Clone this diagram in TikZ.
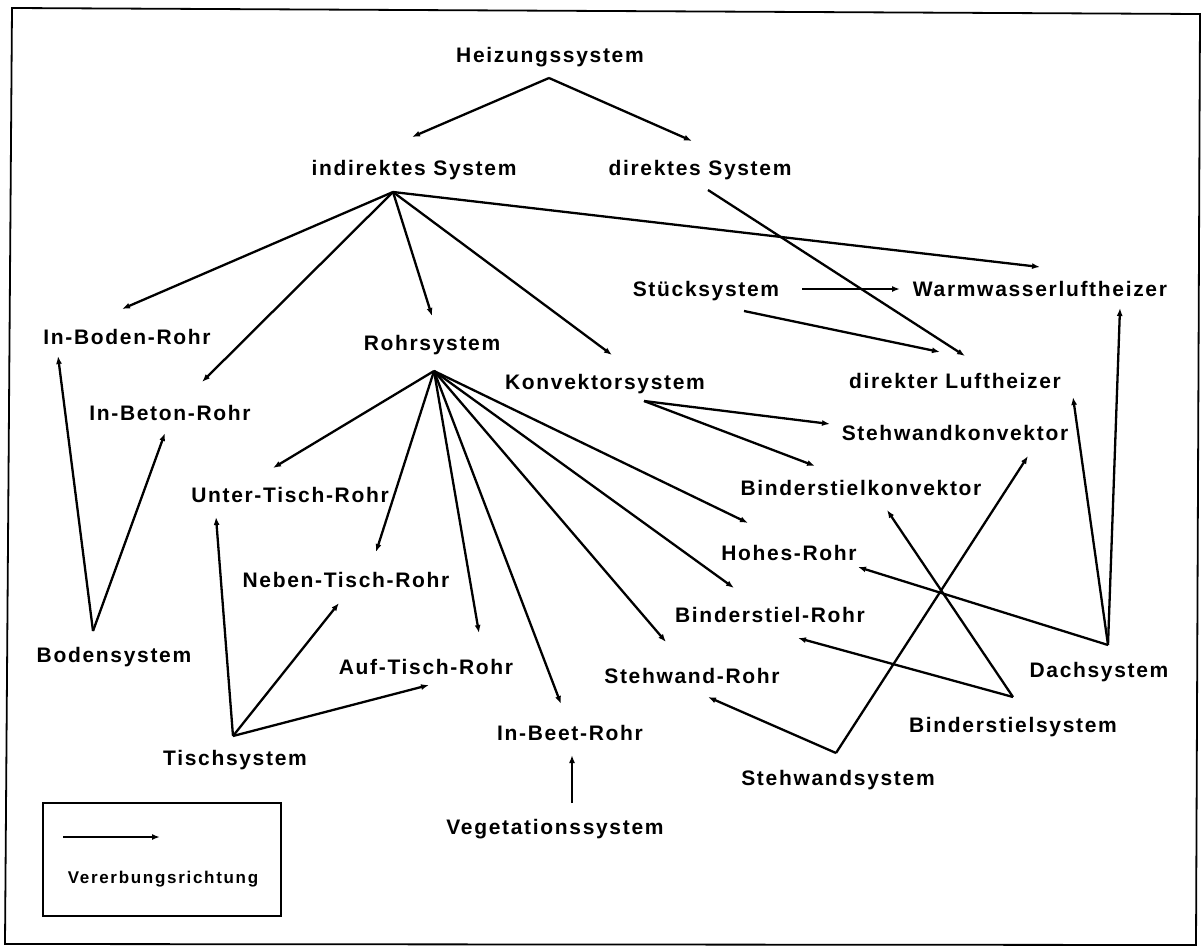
\documentclass[tikz,border=0pt]{standalone}
\usepackage{fontspec}
\setmainfont{Liberation Sans}[LetterSpace=8]
\newfontfamily\legendfont{Liberation Sans}[LetterSpace=10]
\usetikzlibrary{arrows.meta,calc}
\begin{document}
\begin{tikzpicture}[x=1pt,y=-1pt,
  lab/.style={font=\fontsize{21}{24}\selectfont\bfseries, inner sep=0pt,
              text height=15pt, text depth=0pt, anchor=center},
  inh/.style={line width=2.3pt, -{Latex[length=8pt,width=6pt]}},
  frame/.style={line width=1.8pt}]
\useasboundingbox (0,0) rectangle (1204,947);

% outer frame
\draw[frame] (12,8) -- (1200,14) -- (1196,945) -- (5,944) -- cycle;

% class names
\node[lab] (heiz)   at (550,55)  {Heizungssystem};
\node[lab] (indir)  at (414,168) {indirektes System};
\node[lab] (dir)    at (700,168) {direktes System};
\node[lab] (stueck) at (706,289) {Stücksystem};
\node[lab] (warm)   at (1040,289) {Warmwasserluftheizer};
\node[lab] (boden)  at (127,337) {In-Boden-Rohr};
\node[lab] (rohr)   at (432,343) {Rohrsystem};
\node[lab] (beton)  at (170,413) {In-Beton-Rohr};
\node[lab] (konv)   at (605,382) {Konvektorsystem};
\node[lab] (luft)   at (955,381) {direkter Luftheizer};
\node[lab] (stkonv) at (955,433) {Stehwandkonvektor};
\node[lab] (unter)  at (290,495) {Unter-Tisch-Rohr};
\node[lab] (bkonv)  at (861,488) {Binderstielkonvektor};
\node[lab] (neben)  at (346,580) {Neben-Tisch-Rohr};
\node[lab] (hohes)  at (789,553) {Hohes-Rohr};
\node[lab] (brohr)  at (770,615) {Binderstiel-Rohr};
\node[lab] (bodsys) at (114,655) {Bodensystem};
\node[lab] (auf)    at (426,667) {Auf-Tisch-Rohr};
\node[lab] (strohr) at (692,676) {Stehwand-Rohr};
\node[lab] (dach)   at (1099,670) {Dachsystem};
\node[lab] (beet)   at (570,733) {In-Beet-Rohr};
\node[lab] (bsys)   at (1013,725) {Binderstielsystem};
\node[lab] (tisch)  at (235,758) {Tischsystem};
\node[lab] (stsys)  at (838,778) {Stehwandsystem};
\node[lab] (veg)    at (555,827) {Vegetationssystem};

% points where the inheritance lines leave a class
\coordinate (heiz-o)   at (549,78);
\coordinate (indir-o)  at (393,192);
\coordinate (dir-o)    at (708,190);
\coordinate (stueck-r) at (802,289);
\coordinate (stueck-b) at (744,311);
\coordinate (rohr-o)   at (434,371);
\coordinate (konv-o)   at (644,401);
\coordinate (bodsys-o) at (93,631);
\coordinate (tisch-o)  at (233,736);
\coordinate (veg-o)    at (572,803);
\coordinate (stsys-o)  at (836,753);
\coordinate (bsys-o)   at (1013,697);
\coordinate (dach-o)   at (1108,645);

% points where they arrive
\coordinate (indir-i)   at (412,137);
\coordinate (dir-i)     at (692,141);
\coordinate (warm-i1)   at (1040,267);
\coordinate (warm-i2)   at (900,289);
\coordinate (warm-i3)   at (1120,308);
\coordinate (boden-i1)  at (122,309);
\coordinate (boden-i2)  at (58,356);
\coordinate (beton-i1)  at (202,382);
\coordinate (beton-i2)  at (165,433);
\coordinate (rohr-i)    at (432,316);
\coordinate (konv-i)    at (612,355);
\coordinate (luft-i1)   at (965,356);
\coordinate (luft-i2)   at (940,352);
\coordinate (luft-i3)   at (1073,397);
\coordinate (stkonv-i1) at (830,424);
\coordinate (stkonv-i2) at (1028,456);
\coordinate (bkonv-i1)  at (815,466);
\coordinate (bkonv-i2)  at (887,510);
\coordinate (unter-i1)  at (273,468);
\coordinate (unter-i2)  at (216,517);
\coordinate (neben-i1)  at (376,552);
\coordinate (neben-i2)  at (339,603);
\coordinate (auf-i1)    at (479,633);
\coordinate (auf-i2)    at (429,685);
\coordinate (beet-i1)   at (561,704);
\coordinate (beet-i2)   at (572,755);
\coordinate (strohr-i1) at (666,642);
\coordinate (strohr-i2) at (708,697);
\coordinate (brohr-i1)  at (734,588);
\coordinate (brohr-i2)  at (798,638);
\coordinate (hohes-i1)  at (748,523);
\coordinate (hohes-i2)  at (858,567);

% inheritance lines
\draw[inh] (heiz-o) -- (indir-i);
\draw[inh] (heiz-o) -- (dir-i);

\draw[inh] (indir-o) -- (boden-i1);
\draw[inh] (indir-o) -- (beton-i1);
\draw[inh] (indir-o) -- (rohr-i);
\draw[inh] (indir-o) -- (konv-i);
\draw[inh] (indir-o) -- (warm-i1);

\draw[inh] (dir-o) -- (luft-i1);
\draw[inh] (stueck-r) -- (warm-i2);
\draw[inh] (stueck-b) -- (luft-i2);

\draw[inh] (konv-o) -- (stkonv-i1);
\draw[inh] (konv-o) -- (bkonv-i1);

\draw[inh] (rohr-o) -- (unter-i1);
\draw[inh] (rohr-o) -- (neben-i1);
\draw[inh] (rohr-o) -- (auf-i1);
\draw[inh] (rohr-o) -- (beet-i1);
\draw[inh] (rohr-o) -- (strohr-i1);
\draw[inh] (rohr-o) -- (brohr-i1);
\draw[inh] (rohr-o) -- (hohes-i1);

\draw[inh] (bodsys-o) -- (boden-i2);
\draw[inh] (bodsys-o) -- (beton-i2);

\draw[inh] (tisch-o) -- (unter-i2);
\draw[inh] (tisch-o) -- (neben-i2);
\draw[inh] (tisch-o) -- (auf-i2);

\draw[inh] (veg-o) -- (beet-i2);

\draw[inh] (stsys-o) -- (strohr-i2);
\draw[inh] (stsys-o) -- (stkonv-i2);

\draw[inh] (bsys-o) -- (brohr-i2);
\draw[inh] (bsys-o) -- (bkonv-i2);

\draw[inh] (dach-o) -- (hohes-i2);
\draw[inh] (dach-o) -- (luft-i3);
\draw[inh] (dach-o) -- (warm-i3);

% legend
\node[draw, line width=1.3pt, minimum width=238pt, minimum height=113pt,
      inner sep=0pt] (legend) at (162,859.5) {};
\coordinate (leg-a) at (63,837);
\coordinate (leg-b) at (160,837);
\draw[inh] (leg-a) -- (leg-b);
\node[font=\legendfont\fontsize{17}{20}\selectfont\bfseries, inner sep=0pt,
      text height=12pt, text depth=0pt] (legtext) at (163,877) {Vererbungsrichtung};
\end{tikzpicture}
\end{document}
